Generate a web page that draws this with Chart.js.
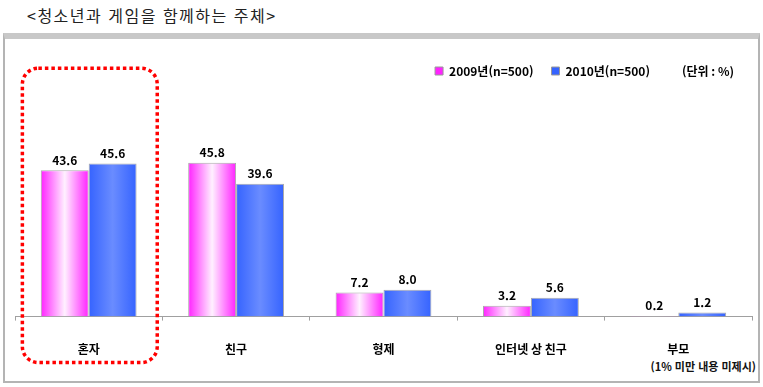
<!DOCTYPE html>
<html lang="ko">
<head>
  <meta charset="UTF-8">
  <title>청소년과 게임을 함께하는 주체</title>
  <style>
    body {
      margin: 0;
      width: 763px;
      height: 387px;
      background: #fff;
      font-family: "Noto Sans CJK KR", "Noto Sans", sans-serif;
      position: relative;
      overflow: hidden;
    }

    .title {
      position: absolute;
      left: 27px;
      top: 3px;
      font-size: 16px;
      letter-spacing: 1.5px;
      color: #222;
      white-space: nowrap;
    }

    .box {
      position: absolute;
      left: 3px;
      top: 33px;
      width: 757px;
      height: 350px;
      box-sizing: border-box;
      border: 2px solid #b4b4b4;
      border-top: 6px solid #c8c8c8;
    }

    .note {
      position: absolute;
      right: 7px;
      top: 358px;
      font-size: 11px;
      font-weight: bold;
      color: #111;
    }

    canvas {
      position: absolute;
      left: 0;
      top: 0;
    }
  </style>
</head>
<body>
  <div class="title">&lt;청소년과 게임을 함께하는 주체&gt;</div>
  <div class="box"></div>
  <div class="note">(1% 미만 내용 미제시)</div>
  <canvas id="myChart" width="763" height="387"></canvas>

  <script src="https://cdn.jsdelivr.net/npm/chart.js"></script>
  <script>
    const categories = ['혼자', '친구', '형제', '인터넷 상 친구', '부모'];
    const seriesNames = ['2009년(n=500)', '2010년(n=500)'];
    const values2009 = [43.6, 45.8, 7.2, 3.2, 0.2];
    const values2010 = [45.6, 39.6, 8.0, 5.6, 1.2];
    const unitLabel = '(단위 : %)';

    const FONT = '"Noto Sans CJK KR", "Noto Sans", sans-serif';
    const CAT_PCT = 0.65;

    // horizontal gradient across each bar, edge -> middle -> edge
    function barFill(edge, mid) {
      return function (c) {
        if (c.type !== 'data') return edge;
        const xs = c.chart.scales.x;
        if (!xs || !xs.width) return edge;
        const step = xs.width / categories.length;
        const w = step * CAT_PCT / 2;
        const center = xs.getPixelForValue(c.dataIndex) + (c.datasetIndex === 0 ? -w / 2 : w / 2);
        const g = c.chart.ctx.createLinearGradient(center - w / 2, 0, center + w / 2, 0);
        g.addColorStop(0, edge);
        g.addColorStop(0.5, mid);
        g.addColorStop(1, edge);
        return g;
      };
    }

    const valueLabels = {
      id: 'valueLabels',
      afterDatasetsDraw(chart) {
        const ctx = chart.ctx;
        ctx.save();
        ctx.font = 'bold 12px ' + FONT;
        ctx.fillStyle = '#000';
        ctx.textAlign = 'center';
        ctx.textBaseline = 'bottom';
        chart.data.datasets.forEach((ds, di) => {
          chart.getDatasetMeta(di).data.forEach((bar, i) => {
            ctx.fillText(ds.data[i].toFixed(1), bar.x, bar.y - 4);
          });
        });
        ctx.restore();
      }
    };

    // red dotted rounded frame around the first category
    const highlight = {
      id: 'highlight',
      afterDraw(chart) {
        const xs = chart.scales.x, ys = chart.scales.y;
        const step = xs.width / categories.length;
        const cx = xs.getPixelForValue(0);
        const left = cx - step * 0.45;
        const right = cx + step * 0.465;
        const top = ys.getPixelForValue(74);
        const bottom = chart.chartArea.bottom + 46;
        const ctx = chart.ctx;
        ctx.save();
        ctx.strokeStyle = '#ff0000';
        ctx.lineWidth = 3.5;
        ctx.setLineDash([3.5, 3]);
        ctx.beginPath();
        ctx.roundRect(left, top, right - left, bottom - top, 16);
        ctx.stroke();
        ctx.restore();
      }
    };

    const ctx = document.getElementById('myChart').getContext('2d');
    new Chart(ctx, {
      type: 'bar',
      data: {
        labels: categories,
        datasets: [
          {
            label: seriesNames[0],
            data: values2009,
            backgroundColor: barFill('#ff22ff', '#fff0ff'),
            borderColor: '#aaaaaa',
            borderWidth: 1
          },
          {
            label: seriesNames[1],
            data: values2010,
            backgroundColor: barFill('#3563ff', '#6a8cff'),
            borderColor: '#aaaaaa',
            borderWidth: 1
          }
        ]
      },
      options: {
        responsive: false,
        devicePixelRatio: 1,
        animation: false,
        layout: {
          padding: { left: 15, right: 11, top: 47, bottom: 8 }
        },
        datasets: {
          bar: { categoryPercentage: CAT_PCT, barPercentage: 1 }
        },
        plugins: {
          tooltip: { enabled: false },
          legend: {
            position: 'top',
            align: 'end',
            onClick: null,
            labels: {
              boxWidth: 8,
              boxHeight: 8,
              padding: 18,
              color: '#000',
              font: { family: FONT, size: 12, weight: 'bold' },
              generateLabels(chart) {
                const items = Chart.defaults.plugins.legend.labels.generateLabels(chart);
                items.forEach(it => { it.strokeStyle = '#999'; it.lineWidth = 1; });
                items.push({
                  text: unitLabel,
                  fillStyle: 'rgba(0,0,0,0)',
                  strokeStyle: 'rgba(0,0,0,0)',
                  lineWidth: 0,
                  hidden: false,
                  datasetIndex: -1
                });
                return items;
              }
            }
          }
        },
        scales: {
          x: {
            grid: {
              drawOnChartArea: false,
              tickLength: 4,
              color: '#a0a0a0'
            },
            border: { color: '#a0a0a0' },
            ticks: {
              padding: 22,
              color: '#000',
              font: { family: FONT, size: 12, weight: 'bold' }
            }
          },
          y: {
            display: false,
            min: 0,
            max: 68.4
          }
        }
      },
      plugins: [valueLabels, highlight]
    });
  </script>
</body>
</html>
